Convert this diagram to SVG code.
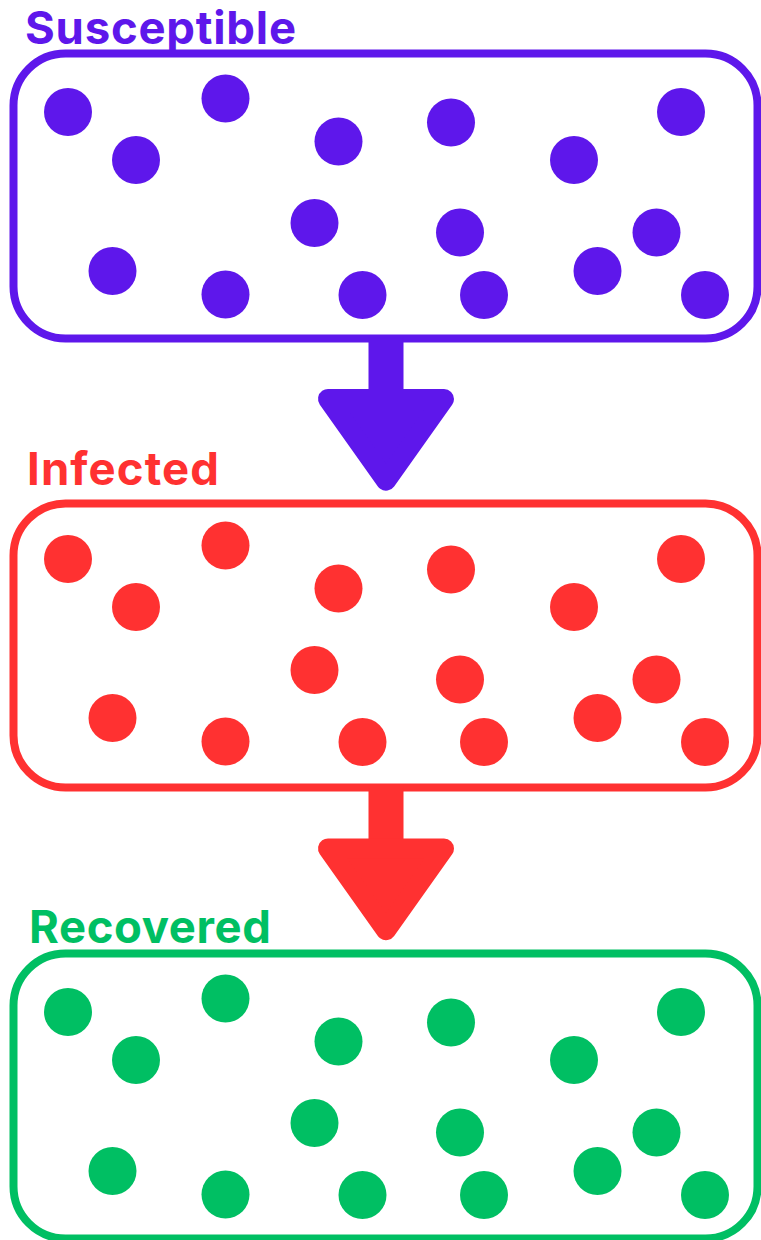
<svg xmlns="http://www.w3.org/2000/svg" width="761" height="1240" viewBox="0 0 761 1240">
<defs>
<style>
.box{fill:#fff;stroke-width:8}
.title{font-family:Inter,"Noto Sans","Liberation Sans",sans-serif;font-weight:700;font-size:45.5px}
.s{fill:#5E17EB}.i{fill:#FF3131}.r{fill:#00BF63}
.bs{stroke:#5E17EB}.bi{stroke:#FF3131}.br{stroke:#00BF63}
</style>
<g id="dots">
<circle cx="68" cy="112" r="24"/><circle cx="136" cy="160" r="24"/><circle cx="225.5" cy="98.5" r="24"/><circle cx="338.5" cy="141.5" r="24"/><circle cx="314.5" cy="223" r="24"/><circle cx="112.5" cy="271" r="24"/><circle cx="225.5" cy="294.5" r="24"/><circle cx="362.5" cy="295" r="24"/><circle cx="451" cy="122.5" r="24"/><circle cx="681" cy="112" r="24"/><circle cx="574" cy="160" r="24"/><circle cx="460" cy="232.5" r="24"/><circle cx="656.5" cy="232.5" r="24"/><circle cx="597.5" cy="271" r="24"/><circle cx="484" cy="295" r="24"/><circle cx="705" cy="295" r="24"/>
</g>
<g id="arrowShape">
<rect x="369" y="338" width="34" height="64"/>
<polygon points="328,399 444,399 386,480.7" stroke-width="20" stroke-linejoin="round"/>
</g>
</defs>
<rect width="761" height="1240" fill="#fff"/>
<g id="susceptible">
<text class="title s" x="25" y="44" textLength="271" lengthAdjust="spacing">Susceptible</text>
<rect class="box bs" x="13.5" y="53.5" width="744" height="285" rx="52"/>
<use href="#dots" class="s"/>
</g>
<g id="infected">
<text class="title i" x="27" y="485" textLength="192" lengthAdjust="spacing">Infected</text>
<rect class="box bi" x="13.5" y="503.5" width="744" height="284" rx="52"/>
<use href="#dots" class="i" transform="translate(0,447)"/>
</g>
<g id="recovered">
<text class="title r" x="29" y="943" textLength="242" lengthAdjust="spacing">Recovered</text>
<rect class="box br" x="13.5" y="953.5" width="744" height="285" rx="52"/>
<use href="#dots" class="r" transform="translate(0,900)"/>
</g>
<g id="connectors">
<use href="#arrowShape" fill="#5E17EB" stroke="#5E17EB"/>
<use href="#arrowShape" fill="#FF3131" stroke="#FF3131" transform="translate(0,449.5)"/>
</g>
</svg>
